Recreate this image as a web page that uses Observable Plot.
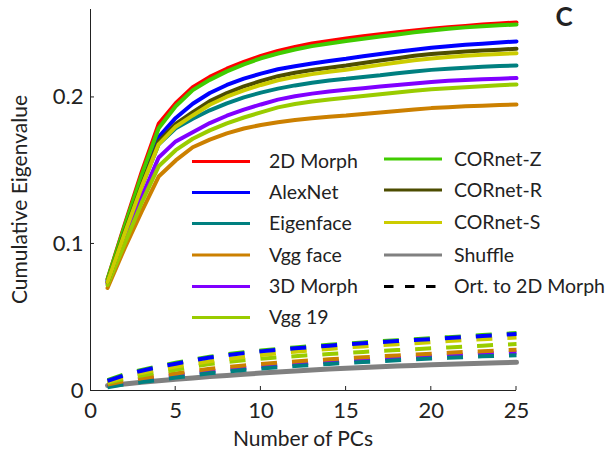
<!DOCTYPE html>
<html><head><meta charset="utf-8">
<script src="https://cdn.jsdelivr.net/npm/d3@7"></script>
<script src="https://cdn.jsdelivr.net/npm/@observablehq/plot@0.6"></script>
<style>
body{margin:0;background:#fff;}
#chart{position:relative;width:614px;height:455px;}
</style></head><body><div id="chart"></div>
<script>
// ---- data ----
const pcs = [1,2,3,4,5,6,7,8,9,10,11,12,13,14,15,16,17,18,19,20,21,22,23,24,25];
const xTicks = [0,5,10,15,20,25];
const yTicks = [0,0.1,0.2];
const xTickLabels = ["0","5","10","15","20","25"];
const yTickLabels = ["0","0.1","0.2"];

const solidNames = ["2D Morph","AlexNet","Eigenface","Vgg face","3D Morph","Vgg 19","CORnet-Z","CORnet-R","CORnet-S"];
const solidColors = ["#ff0000","#0000ff","#008080","#cc8000","#8000ff","#99cc00","#40cc00","#4d4d00","#cccc00"];

const morph2d   = [.076,.113,.149,.182,.196,.207,.2140,.2196,.2243,.2283,.2318,.2345,.2368,.2386,.2402,.2417,.2431,.2444,.2457,.2469,.2479,.2488,.2497,.2505,.2512];
const alexnet   = [.075,.110,.143,.173,.186,.1957,.2030,.2085,.2128,.2162,.2192,.2213,.2232,.2249,.2264,.2281,.2297,.2312,.2326,.2339,.2350,.2359,.2367,.2375,.2382];
const eigenface = [.074,.107,.139,.168,.179,.1855,.1912,.1960,.2000,.2033,.2060,.2082,.2100,.2115,.2127,.2140,.2152,.2165,.2177,.2188,.2196,.2203,.2209,.2214,.2218];
const vggface   = [.070,.097,.122,.146,.157,.166,.1712,.1755,.1788,.1812,.1831,.1846,.1858,.1868,.1877,.1887,.1897,.1907,.1917,.1927,.1933,.1939,.1944,.1948,.1952];
const morph3d   = [.073,.103,.132,.159,.170,.1763,.1825,.1875,.1917,.1952,.1985,.2008,.2026,.2040,.2052,.2063,.2074,.2085,.2095,.2105,.2113,.2119,.2124,.2128,.2132];
const vgg19     = [.072,.100,.128,.153,.164,.1718,.1775,.1823,.1863,.1898,.1932,.1955,.1972,.1986,.1998,.2010,.2022,.2034,.2045,.2055,.2063,.2070,.2077,.2083,.2089];
const cornetZ   = [.076,.112,.147,.179,.194,.205,.2120,.2178,.2226,.2267,.2300,.2327,.2350,.2368,.2385,.2401,.2416,.2430,.2444,.2457,.2468,.2478,.2486,.2492,.2498];
const cornetR   = [.074,.108,.140,.170,.182,.190,.1975,.2030,.2075,.2112,.2145,.2168,.2187,.2203,.2218,.2235,.2252,.2268,.2284,.2296,.2305,.2313,.2320,.2326,.2332];
const cornetS   = [.074,.107,.139,.168,.180,.1877,.1950,.2005,.2048,.2085,.2117,.2140,.2159,.2175,.2189,.2206,.2222,.2238,.2254,.2266,.2276,.2284,.2291,.2297,.2302];
const solidValues = [morph2d, alexnet, eigenface, vggface, morph3d, vgg19, cornetZ, cornetR, cornetS];

const shuffle = [.0034,.0045,.0056,.0066,.0076,.0086,.0095,.0103,.0111,.0119,.0126,.0133,.0140,.0146,.0152,.0157,.0162,.0167,.0171,.0175,.0179,.0183,.0186,.0189,.0192];

// orthogonalised to 2D Morph (dashed)
const ortNames = ["CORnet-Z","3D Morph","Eigenface","Vgg face","Vgg 19","CORnet-S","AlexNet"];
const ortCornetZ  = [.0071,.0111,.0141,.0166,.0189,.0211,.0231,.0247,.0261,.0273,.0284,.0294,.0303,.0312,.0320,.0328,.0336,.0343,.0350,.0357,.0364,.0371,.0378,.0385,.0392];
const ortMorph3d  = [.0033,.0055,.0073,.0088,.0103,.0117,.0131,.0143,.0154,.0164,.0173,.0181,.0189,.0196,.0203,.0210,.0216,.0222,.0228,.0234,.0240,.0245,.0250,.0255,.0260];
const ortEigen    = [.0022,.0042,.0058,.0073,.0088,.0103,.0117,.0129,.0140,.0150,.0159,.0167,.0174,.0181,.0188,.0194,.0200,.0206,.0212,.0218,.0223,.0228,.0233,.0237,.0241];
const ortVggface  = [.0040,.0064,.0083,.0100,.0116,.0132,.0148,.0160,.0171,.0181,.0190,.0198,.0206,.0213,.0220,.0227,.0233,.0239,.0245,.0251,.0257,.0263,.0268,.0273,.0278];
const ortVgg19    = [.0050,.0080,.0103,.0123,.0142,.0162,.0180,.0194,.0206,.0217,.0226,.0234,.0242,.0249,.0256,.0263,.0270,.0276,.0282,.0288,.0294,.0300,.0306,.0312,.0317];
const ortCornetS  = [.0058,.0093,.0120,.0143,.0163,.0182,.0200,.0215,.0229,.0242,.0254,.0265,.0275,.0284,.0293,.0301,.0309,.0316,.0323,.0330,.0337,.0344,.0350,.0356,.0362];
const ortAlexnet  = [.0065,.0105,.0135,.0160,.0183,.0205,.0225,.0241,.0255,.0267,.0278,.0288,.0297,.0306,.0314,.0322,.0330,.0337,.0344,.0351,.0358,.0365,.0372,.0379,.0386];
const ortValues = [ortCornetZ, ortMorph3d, ortEigen, ortVggface, ortVgg19, ortCornetS, ortAlexnet];

const legendLeft = ["2D Morph","AlexNet","Eigenface","Vgg face","3D Morph","Vgg 19"];
const legendRight = ["CORnet-Z","CORnet-R","CORnet-S","Shuffle","Ort. to 2D Morph"];

// ---- tables ----
const solidRows = solidNames.flatMap((n, i) => pcs.map((p, j) => ({pc: p, v: solidValues[i][j], name: n})));
const ortRows = ortNames.flatMap((n, i) => pcs.map((p, j) => ({pc: p, v: ortValues[i][j], name: n})));
const shuffleRows = pcs.map((p, j) => ({pc: p, v: shuffle[j], name: "Shuffle"}));

const colorDomain = [...solidNames, "Shuffle"];
const colorRange = [...solidColors, "#808080"];
const colorOf = n => colorRange[colorDomain.indexOf(n)];

const FONT = "Lato, 'Open Sans', sans-serif";

const plot = Plot.plot({
  width: 614, height: 455,
  marginLeft: 90, marginRight: 98, marginTop: 9, marginBottom: 65,
  style: {fontFamily: FONT, fontSize: "22px", color: "#222", background: "#fff"},
  x: {domain: [0, 25], label: null},
  y: {domain: [0, 0.26], label: null},
  color: {domain: colorDomain, range: colorRange},
  marks: [
    Plot.line(shuffleRows, {x: "pc", y: "v", stroke: "name", strokeWidth: 5}),
    Plot.line(ortRows, {x: "pc", y: "v", z: "name", stroke: "name", strokeWidth: 4, strokeDasharray: "16,15", strokeLinecap: "butt"}),
    Plot.line(solidRows, {x: "pc", y: "v", z: "name", stroke: "name", strokeWidth: 4, strokeLinejoin: "miter"}),
    Plot.ruleX([0], {stroke: "#222"}),
    Plot.ruleY([0], {stroke: "#222"}),
    Plot.axisX({ticks: xTicks, tickSize: 0, tickPadding: 12, tickFormat: d => xTickLabels[xTicks.indexOf(d)], fontSize: 22, label: null}),
    Plot.axisY({ticks: yTicks, tickSize: 0, tickPadding: 7, tickFormat: d => yTickLabels[yTicks.indexOf(d)], fontSize: 22, label: null})
  ]
});
document.getElementById("chart").appendChild(plot);

// ---- inward tick marks, axis titles, legend ----
const svg = d3.select(plot);
const sx = plot.scale("x"), sy = plot.scale("y");
const x0 = sx.apply(0), y0 = sy.apply(0);
const g = svg.append("g").attr("text-anchor", "start");
xTicks.filter(d => d > 0).forEach(d => {
  g.append("line").attr("x1", sx.apply(d)).attr("x2", sx.apply(d)).attr("y1", y0).attr("y2", y0 - 4).attr("stroke", "#222");
});
yTicks.filter(d => d > 0).forEach(d => {
  g.append("line").attr("x1", x0).attr("x2", x0 + 4).attr("y1", sy.apply(d)).attr("y2", sy.apply(d)).attr("stroke", "#222");
});
g.append("text").attr("x", (sx.apply(0) + sx.apply(25)) / 2).attr("y", 446)
  .attr("text-anchor", "middle").attr("font-family", FONT).attr("font-size", 21).attr("fill", "#222").text("Number of PCs");
g.append("text").attr("transform", `translate(27,${(sy.apply(0) + sy.apply(0.26)) / 2}) rotate(-90)`)
  .attr("text-anchor", "middle").attr("font-family", FONT).attr("font-size", 21).attr("fill", "#222").text("Cumulative Eigenvalue");
g.append("text").attr("x", 564).attr("y", 26).attr("text-anchor", "middle").attr("font-family", FONT)
  .attr("font-weight", "bold").attr("font-size", 26).attr("fill", "#222").text("C");

const leftRowsY = [161.5, 192.5, 223.5, 255, 286.5, 317.5];
const rightRowsY = [159, 190, 222.5, 255, 286.5];
legendLeft.forEach((n, i) => {
  g.append("line").attr("x1", 192).attr("x2", 250).attr("y1", leftRowsY[i]).attr("y2", leftRowsY[i])
    .attr("stroke", colorOf(n)).attr("stroke-width", 3);
  g.append("text").attr("x", 269).attr("y", leftRowsY[i]).attr("dy", "0.35em").attr("text-anchor", "start")
    .attr("font-family", FONT).attr("font-size", 19.5).attr("fill", "#222").text(n);
});
legendRight.forEach((n, i) => {
  const dashed = n.startsWith("Ort");
  g.append("line").attr("x1", 384).attr("x2", dashed ? 436 : 442).attr("y1", rightRowsY[i]).attr("y2", rightRowsY[i])
    .attr("stroke", dashed ? "#000" : colorOf(n)).attr("stroke-width", 3)
    .attr("stroke-dasharray", dashed ? "9.5,11.5" : null);
  g.append("text").attr("x", 454).attr("y", rightRowsY[i]).attr("dy", "0.35em").attr("text-anchor", "start")
    .attr("font-family", FONT).attr("font-size", 19.5).attr("fill", "#222").text(n);
});
</script></body></html>
